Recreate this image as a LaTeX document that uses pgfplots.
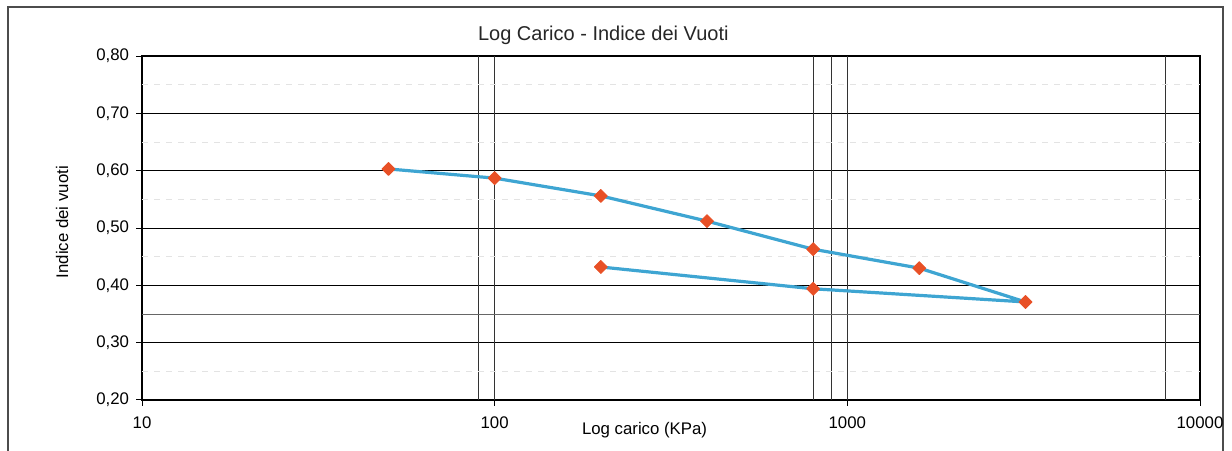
\documentclass[border=0pt]{standalone}
\usepackage{pgfplots}
\pgfplotsset{compat=1.18}
\usepackage{fontspec}
\setmainfont{Liberation Sans}
\definecolor{linecol}{RGB}{62,165,210}
\definecolor{markcol}{RGB}{232,80,38}
\begin{document}
\begin{tikzpicture}[font=\fontsize{8.4}{10}\selectfont]
\useasboundingbox (0,0) rectangle (616pt,225pt);
\draw[black!70, line width=0.6pt] (4pt,-10pt) rectangle (611.5pt,221.5pt);
\begin{axis}[
  at={(71pt,25pt)}, anchor=south west,
  scale only axis, width=529pt, height=172pt,
  xmode=log, log basis x=10,
  xmin=10, xmax=10000,
  ymin=0.2, ymax=0.8,
  xtick={10,100,1000,10000},
  xticklabels={10,100,1000,10000},
  minor xtick={},
  ytick={0.2,0.3,0.4,0.5,0.6,0.7,0.8},
  xtick pos=bottom, ytick pos=left,
  /pgf/number format/assume math mode=true,
  yticklabel style={/pgf/number format/.cd, use comma, fixed, fixed zerofill, precision=2},
  xticklabel style={yshift=-2pt},
  tick align=outside, major tick length=3pt,
  tick style={black, line width=0.5pt},
  ymajorgrids=true,
  major grid style={black, line width=0.5pt},
  extra x ticks={90,100,800,900,1000,8000},
  extra x tick labels={},
  extra x tick style={grid=major, major grid style={black!80, line width=0.4pt}, tick style={draw=none}},
  extra y ticks={0.35},
  extra y tick labels={},
  extra y tick style={grid=major, major grid style={black!60, line width=0.5pt}, tick style={draw=none}},
  axis line style={black},
  x axis line style={line width=1pt},
  y axis line style={line width=0.6pt},
  title={Log Carico - Indice dei Vuoti},
  title style={at={(axis description cs:0.436,1.026)}, anchor=center, font=\fontsize{10}{12}\selectfont, text=black!85},
  xlabel={Log carico (KPa)},
  xlabel style={at={(axis description cs:0.475,-0.087)}, anchor=center},
  ylabel={Indice dei vuoti},
  ylabel style={at={(axis description cs:-0.0756,0.517)}, anchor=center},
  clip=false,
]
\addplot[gray!22, dashed, line width=0.4pt, forget plot] coordinates {(10,0.75)(10000,0.75)};
\addplot[gray!22, dashed, line width=0.4pt, forget plot] coordinates {(10,0.65)(10000,0.65)};
\addplot[gray!22, dashed, line width=0.4pt, forget plot] coordinates {(10,0.55)(10000,0.55)};
\addplot[gray!22, dashed, line width=0.4pt, forget plot] coordinates {(10,0.45)(10000,0.45)};
\addplot[gray!22, dashed, line width=0.4pt, forget plot] coordinates {(10,0.25)(10000,0.25)};
\addplot[linecol, line width=1.6pt, line join=round, mark=square*, mark size=2.3pt,
  mark options={rotate=45, fill=markcol, draw=markcol, line width=0.4pt, line join=round}]
  coordinates {
    (50,0.603) (100,0.587) (200,0.556) (400,0.512) (800,0.463)
    (1600,0.430) (3200,0.371) (800,0.394) (200,0.432)
  };
\end{axis}
\end{tikzpicture}
\end{document}
